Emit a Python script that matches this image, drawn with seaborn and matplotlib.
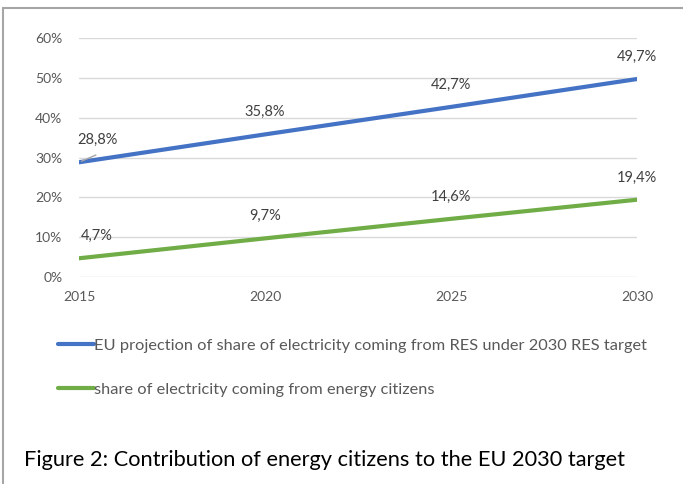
import numpy as np
import pandas as pd
import seaborn as sns
import matplotlib.pyplot as plt
from matplotlib.lines import Line2D

years = [2015, 2020, 2025, 2030]
res_share = [28.8, 35.8, 42.7, 49.7]
citizen_share = [4.7, 9.7, 14.6, 19.4]
series_names = [
    "EU projection of share of electricity coming from RES under 2030 RES target",
    "share of electricity coming from energy citizens",
]
colors = ["#4472C4", "#70AD47"]
y_ticks = [0, 10, 20, 30, 40, 50, 60]

df = pd.DataFrame({
    "year": years * 2,
    "share": [v / 100 for v in res_share + citizen_share],
    "series": [series_names[0]] * 4 + [series_names[1]] * 4,
})

sns.set_theme(style="white")
plt.rcParams["font.family"] = ["Lato", "DejaVu Sans"]

fig = plt.figure(figsize=(6.83, 4.84), dpi=100)
ax = fig.add_axes([79 / 683, 1 - 277 / 484, (637 - 79) / 683, (277 - 38) / 484])

sns.lineplot(data=df, x="year", y="share", hue="series", palette=colors,
             linewidth=3, ax=ax, legend=False)

ax.set_xlim(2015, 2030)
ax.set_ylim(0, 0.6)
ax.set_yticks([t / 100 for t in y_ticks])
ax.set_yticklabels(["%d%%" % t for t in y_ticks])
ax.set_xticks(years)
ax.set_xticklabels([str(y) for y in years])
ax.yaxis.grid(True, color="#d9d9d9", linewidth=1)
ax.xaxis.grid(False)
for s in ax.spines.values():
    s.set_visible(False)
ax.tick_params(axis="both", length=0, labelsize=10, labelcolor="#595959")
ax.tick_params(axis="y", pad=12)
ax.tick_params(axis="x", pad=10)
ax.set_xlabel("")
ax.set_ylabel("")

# data labels
for vals in (res_share, citizen_share):
    for i, (yr, v) in enumerate(zip(years, vals)):
        dx = 13 if i == 0 else 0
        ax.annotate(("%.1f%%" % v).replace(".", ","), (yr, v / 100),
                    xytext=(dx, 16), textcoords="offset points",
                    ha="center", va="center", fontsize=10.5, color="#404040",
                    annotation_clip=False)
# leader line for first blue label
ax.annotate("", (2015, res_share[0] / 100), xytext=(14, 6), textcoords="offset points",
            arrowprops=dict(arrowstyle="-", color="#a6a6a6", lw=1))

handles = [Line2D([0], [0], color=c, linewidth=3) for c in colors]
fig.legend(handles, series_names, loc="upper left",
           bbox_to_anchor=(50 / 683, 1 - 330 / 484), frameon=False,
           fontsize=11.8, labelcolor="#595959", handlelength=2.2,
           handletextpad=0.0, labelspacing=1.82, borderpad=0)

fig.text(24 / 683, 1 - 460 / 484, "Figure 2: Contribution of energy citizens to the EU 2030 target",
         fontsize=15.7, color="#000000", va="center", ha="left")

# frame lines (top and left)
fig.add_artist(Line2D([3 / 683, 1], [1 - 8 / 484, 1 - 8 / 484], color="#a6a6a6", linewidth=1.5))
fig.add_artist(Line2D([3 / 683, 3 / 683], [0, 1 - 8 / 484], color="#a6a6a6", linewidth=1.5))

fig.savefig("out.png", dpi=100)
